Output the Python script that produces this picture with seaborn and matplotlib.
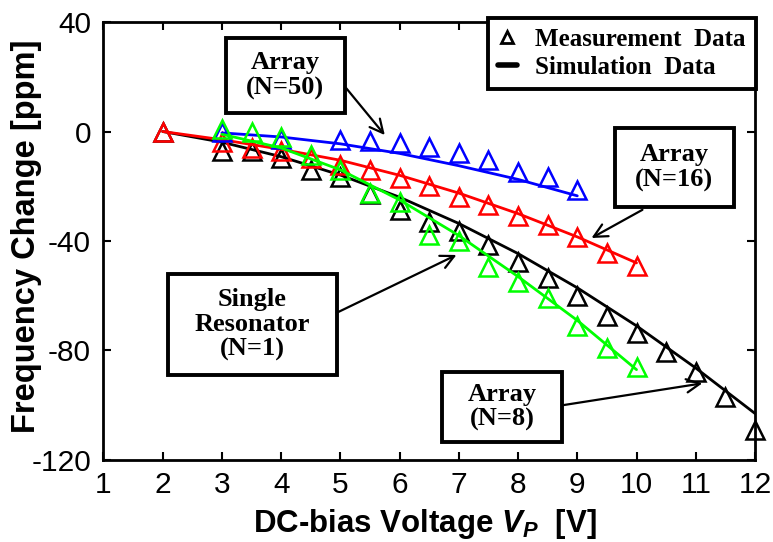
import numpy as np
import pandas as pd
import matplotlib
matplotlib.use("Agg")
import matplotlib.pyplot as plt
from matplotlib.lines import Line2D
from matplotlib.patches import Rectangle
import seaborn as sns

# measured points (triangles)
meas_x_n8 = [2, 3, 3.5, 4, 4.5, 5, 5.5, 6, 6.5, 7, 7.5, 8, 8.5, 9, 9.5, 10, 10.5, 11, 11.5, 12]
meas_y_n8 = [0, -7, -7, -9.7, -14, -16.5, -23, -28.6, -33, -36.5, -41.4, -47.5, -53.5, -60, -67.5, -73.6, -80.5, -88, -97, -109]
meas_x_n16 = [2, 3, 3.5, 4, 4.5, 5, 5.5, 6, 6.5, 7, 7.5, 8, 8.5, 9, 9.5, 10]
meas_y_n16 = [0, -4, -6, -7, -9.5, -12.2, -14, -17, -20, -24, -27, -31, -34, -38.4, -44.5, -49]
meas_x_n50 = [3, 4, 5, 5.5, 6, 6.5, 7, 7.5, 8, 8.5, 9]
meas_y_n50 = [0, -2.8, -3, -3.4, -4.3, -5.5, -8, -10.4, -14.7, -16.5, -21.4]
meas_x_n1 = [3, 3.5, 4, 4.5, 5, 5.5, 6, 6.5, 7, 7.5, 8, 8.5, 9, 9.5, 10]
meas_y_n1 = [1, 0, -2, -8.6, -14, -22.5, -25.7, -37.8, -40, -49.5, -55, -61, -71, -79, -86]

# simulation curves
sim_x_n8 = [2, 3, 4, 5, 6, 7, 8, 9, 10, 11, 12]
sim_y_n8 = [0, -3.9, -9.2, -15.9, -24.0, -33.6, -44.6, -57.1, -71.0, -86.4, -103]
sim_x_n16 = [2, 3, 4, 5, 6, 7, 8, 9, 10]
sim_y_n16 = [0, -3, -6.5, -10.5, -16, -22.5, -30, -38.5, -48]
sim_x_n50 = [3, 4, 5, 6, 7, 8, 9]
sim_y_n50 = [-0.5, -2, -4.5, -8, -12.5, -17.5, -23.5]
sim_x_n1 = [3, 4, 5, 6, 7, 8, 9, 10]
sim_y_n1 = [-1, -6, -14, -25, -38, -53, -69, -87]

colors = {"N=8": "black", "N=16": "#ff0000", "N=50": "#0000ff", "N=1": "#00ff00"}

meas = pd.concat([
    pd.DataFrame({"V": meas_x_n8, "df": meas_y_n8, "set": "N=8"}),
    pd.DataFrame({"V": meas_x_n16, "df": meas_y_n16, "set": "N=16"}),
    pd.DataFrame({"V": meas_x_n50, "df": meas_y_n50, "set": "N=50"}),
    pd.DataFrame({"V": meas_x_n1, "df": meas_y_n1, "set": "N=1"}),
])
sim = pd.concat([
    pd.DataFrame({"V": sim_x_n8, "df": sim_y_n8, "set": "N=8"}),
    pd.DataFrame({"V": sim_x_n16, "df": sim_y_n16, "set": "N=16"}),
    pd.DataFrame({"V": sim_x_n50, "df": sim_y_n50, "set": "N=50"}),
    pd.DataFrame({"V": sim_x_n1, "df": sim_y_n1, "set": "N=1"}),
])

sns.set_style("white")
plt.rcParams["font.family"] = ["Liberation Sans", "DejaVu Sans"]
plt.rcParams["mathtext.fontset"] = "custom"
plt.rcParams["mathtext.it"] = "Liberation Sans:bold:italic"
plt.rcParams["mathtext.rm"] = "Liberation Sans:bold"
plt.rcParams["axes.unicode_minus"] = False
plt.rcParams["text.color"] = "black"
plt.rcParams["axes.labelcolor"] = "black"
plt.rcParams["xtick.color"] = "black"
plt.rcParams["ytick.color"] = "black"

fig = plt.figure(figsize=(7.73, 5.42), dpi=100)
ax = fig.add_axes([0.1338, 0.1513, 0.8429, 0.8081])

for name in ["N=8", "N=16", "N=50", "N=1"]:
    c = colors[name]
    sns.lineplot(data=sim[sim["set"] == name], x="V", y="df", color=c, lw=2,
                 ax=ax, sort=False, estimator=None)
    sns.lineplot(data=meas[meas["set"] == name], x="V", y="df", ax=ax,
                 linestyle="", marker="^", markersize=13, markerfacecolor="none",
                 markeredgecolor=c, markeredgewidth=1.8, estimator=None, sort=False,
                 clip_on=False)

ax.set_xlim(1, 12)
ax.set_ylim(-120, 40)
ax.set_xticks(range(1, 13))
ax.set_yticks([-120, -80, -40, 0, 40])
ax.tick_params(direction="in", length=6, width=1.5, labelsize=21.5, top=True, right=True,
               bottom=True, left=True)
ax.tick_params(axis="x", pad=8)
ax.tick_params(axis="y", pad=9)
for s in ax.spines.values():
    s.set_linewidth(2)
    s.set_color("black")

ax.set_xlabel(r"DC-bias Voltage $V_P$  [V]", fontsize=22.5, fontweight="bold")
ax.set_ylabel("Frequency Change [ppm]", fontsize=23.5, fontweight="bold")
ax.xaxis.set_label_coords(0.494, -0.108)
ax.yaxis.set_label_coords(-0.094, 0.51)

serif = ["Liberation Serif", "DejaVu Serif"]

# annotation boxes: (text, box x0, x1, y0, y1, arrow start, arrow tip)
notes = [
    ("Array\n(N=50)", 3.07, 5.07, 6.75, 34.1, (5.10, 15.8), (5.75, -1.3)),
    ("Array\n(N=16)", 9.63, 11.65, -27.6, 1.28, (10.1, -28.6), (9.24, -38.9)),
    ("Single\nResonator\n(N=1)", 2.09, 4.94, -88.9, -52.0, (4.94, -66.2), (6.96, -45.1)),
    ("Array\n(N=8)", 6.72, 8.75, -113.3, -87.8, (8.75, -100.0), (11.11, -92.0)),
]
for txt, x0, x1, y0, y1, start, tip in notes:
    ax.add_patch(Rectangle((x0, y0), x1 - x0, y1 - y0, fc="white", ec="black",
                           lw=2.8, zorder=5))
    ax.text((x0 + x1) / 2, (y0 + y1) / 2, txt, ha="center", va="center", fontsize=19,
            fontweight="bold", family=serif, linespacing=1.1, zorder=6)
    ax.annotate("", xy=tip, xytext=start,
                arrowprops=dict(arrowstyle="->", color="black", lw=1.6, mutation_scale=24,
                                shrinkA=0, shrinkB=0), zorder=6)

handles = [
    Line2D([], [], linestyle="", marker="^", markersize=9, markerfacecolor="none",
           markeredgecolor="black", markeredgewidth=2),
    Line2D([], [], color="black", lw=4),
]
leg = ax.legend(handles, ["Measurement  Data", "Simulation  Data"], loc="upper right",
                bbox_to_anchor=(1.0015, 1.009), frameon=True, fancybox=False,
                handlelength=0.75, prop={"family": serif, "weight": "bold", "size": 18},
                borderpad=0.4, labelspacing=0.2, handletextpad=0.75, borderaxespad=0)
leg.get_frame().set_edgecolor("black")
leg.get_frame().set_linewidth(2.8)
leg.get_frame().set_alpha(1)
leg.set_zorder(7)

fig.savefig("out.png", dpi=100)
